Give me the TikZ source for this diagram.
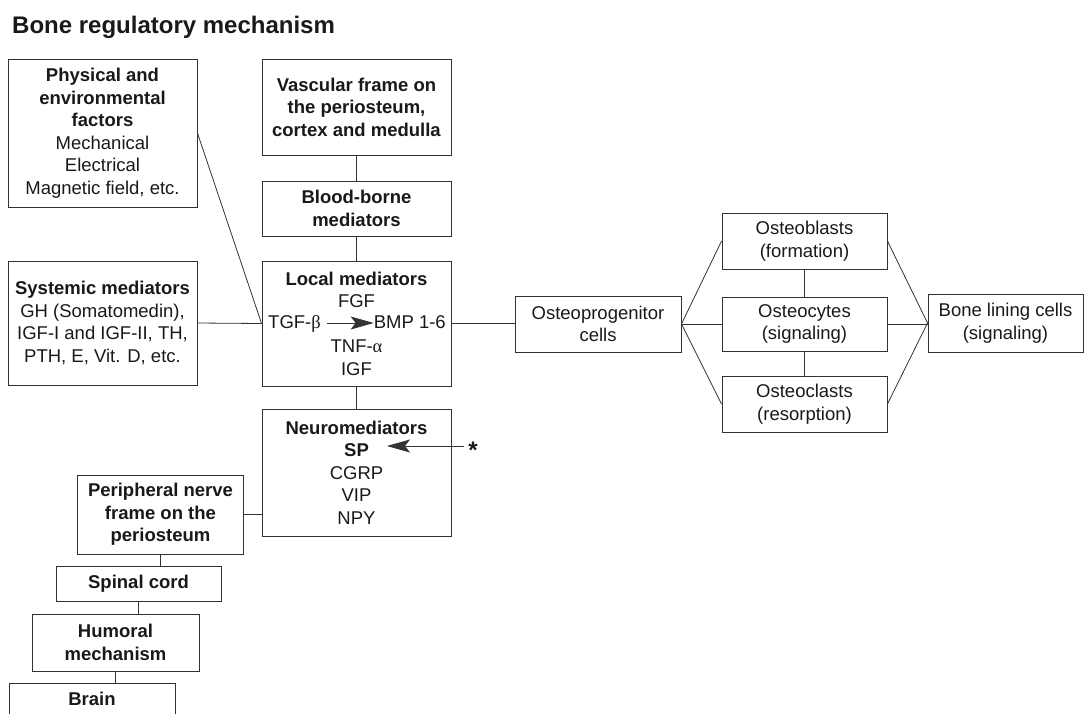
\documentclass[tikz,border=0pt]{standalone}
\usepackage{fontspec}
\setmainfont{Liberation Sans}
\newfontfamily\grk{Liberation Serif}
\usetikzlibrary{arrows.meta}
\begin{document}
\begin{tikzpicture}[x=1pt,y=-1pt,
  every node/.style={text=black!90},
  txt/.style={font=\fontsize{18.5}{22.5}\selectfont, inner sep=0pt},
  box/.style={txt, draw=black!80, line width=0.9pt, align=center},
  conn/.style={draw=black!80, line width=0.8pt},
  tipline/.style={conn, -{Stealth[length=23pt,width=13pt,inset=5pt]}}]
\useasboundingbox (0,0) rectangle (1085,713);
\node[anchor=base west, font=\fontsize{24}{28}\selectfont\bfseries, inner sep=0pt] (title) at (12,33) {Bone regulatory mechanism};
% left column
\node[box, minimum width=189, minimum height=148] (phys) at (102.5,133)
  {\textbf{Physical and}\\\textbf{environmental}\\\textbf{factors}\\Mechanical\\Electrical\\Magnetic field, etc.};
\node[box, minimum width=189, minimum height=124] (syst) at (102.5,323)
  {\textbf{Systemic mediators}\\GH (Somatomedin),\\IGF-I and IGF-II, TH,\\PTH, E, Vit. D, etc.};
% centre column
\node[box, minimum width=189, minimum height=96] (vasc) at (356.5,107)
  {\textbf{Vascular frame on}\\\textbf{the periosteum,}\\\textbf{cortex and medulla}};
\node[box, minimum width=189, minimum height=55] (blood) at (356.5,208.5)
  {\textbf{Blood-borne}\\\textbf{mediators}};
\node[box, minimum width=189, minimum height=125] (local) at (356.5,323.5)
  {\textbf{Local mediators}\\FGF\\\mbox{}\\TNF-{\grk α}\\IGF};
\node[txt, anchor=base west] (tgf) at (268,328) {TGF-{\grk β}};
\node[txt, anchor=base east] (bmp) at (446,328) {BMP 1-6};
\coordinate (row) at (0,323);
\draw[tipline, shorten <=6pt] (tgf.east |- row) -- (bmp.west |- row);
\node[box, minimum width=189, minimum height=127] (neuro) at (356.5,472.5)
  {\textbf{Neuromediators}\\\textbf{SP}\\CGRP\\VIP\\NPY};
\node[txt, anchor=base, font=\fontsize{24}{28}\selectfont\bfseries] (star) at (473,458) {*};
\coordinate (sptip) at (387,446);
\draw[tipline, shorten <=4pt] (star.west |- sptip) -- (sptip);
% nerve chain
\node[box, minimum width=166, minimum height=79] (periph) at (160.5,514.5)
  {\textbf{Peripheral nerve}\\\textbf{frame on the}\\\textbf{periosteum}};
\node[box, minimum width=165, minimum height=35] (spinal) at (138.5,583.5)
  {\textbf{Spinal cord}};
\node[box, minimum width=167, minimum height=57] (humoral) at (115.5,642.5)
  {\textbf{Humoral}\\\textbf{mechanism}};
\node[box, minimum width=166, minimum height=32] (brain) at (92,699)
  {\textbf{Brain}};
% cells
\node[box, minimum width=166, minimum height=56] (progen) at (598,324)
  {Osteoprogenitor\\cells};
\node[box, minimum width=165, minimum height=56] (blasts) at (804.5,241)
  {Osteoblasts\\(formation)};
\node[box, minimum width=165, minimum height=54] (cytes) at (804.5,324)
  {Osteocytes\\(signaling)};
\node[box, minimum width=165, minimum height=56] (clasts) at (804.5,404)
  {Osteoclasts\\(resorption)};
\node[box, minimum width=155, minimum height=58] (lining) at (1005.5,323)
  {Bone lining cells\\(signaling)};
% connectors
\draw[conn] (phys.east) -- (local.west);
\draw[conn] (syst.east) -- (local.west);
\draw[conn] (vasc.south) -- (blood.north);
\draw[conn] (blood.south) -- (local.north);
\draw[conn] (local.south) -- (neuro.north);
\draw[conn] (periph.east) -- (periph.east -| neuro.west);
\draw[conn] (periph.south) -- (periph.south |- spinal.north);
\draw[conn] (spinal.south) -- (spinal.south |- humoral.north);
\draw[conn] (humoral.south) -- (humoral.south |- brain.north);
\draw[conn] (local.east) -- (local.east -| progen.west);
\draw[conn] (progen.east) -- (blasts.west);
\draw[conn] (progen.east) -- (cytes.west);
\draw[conn] (progen.east) -- (clasts.west);
\draw[conn] (blasts.south) -- (cytes.north);
\draw[conn] (cytes.south) -- (clasts.north);
\draw[conn] (blasts.east) -- (lining.west);
\draw[conn] (cytes.east) -- (cytes.east -| lining.west);
\draw[conn] (clasts.east) -- (lining.west);
\end{tikzpicture}
\end{document}
